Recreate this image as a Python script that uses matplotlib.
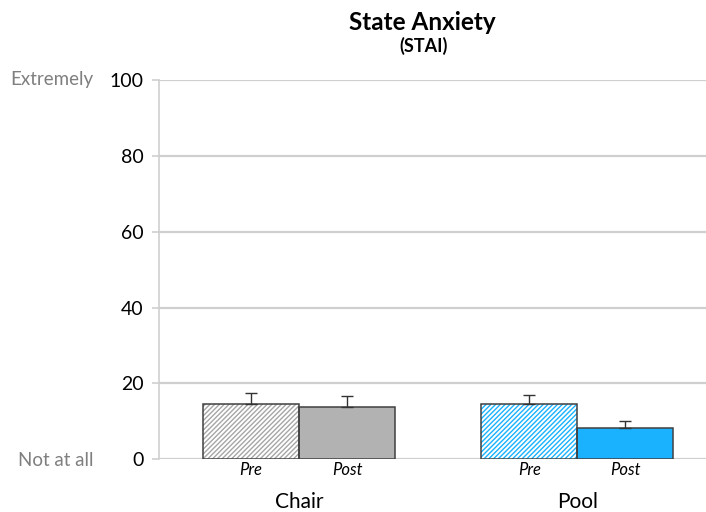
import numpy as np
import matplotlib.pyplot as plt

plt.rcParams['font.family'] = ['Lato', 'DejaVu Sans']
plt.rcParams['hatch.linewidth'] = 1.0

# data
groups = ['Chair', 'Pool']
phases = ['Pre', 'Post']
means = [14.5, 13.7, 14.7, 8.2]
errs = [2.9, 3.0, 2.3, 2.0]
yticks = [0, 20, 40, 60, 80, 100]

# style
hatch_cols = ['#a6a6a6', '#a6a6a6', '#1ab2ff', '#1ab2ff']
fill_cols = ['white', '#b2b2b2', 'white', '#1ab2ff']
hatches = ['///////', '', '///////', '']
grid_col = '#cfcfcf'
edge_col = '#404040'

x = np.array([0, 1, 2.9, 3.9])

fig = plt.figure(figsize=(7.06, 5.12), dpi=100)
ax = fig.add_axes([159 / 706, 1 - 459.3 / 512, 1 - 159 / 706, (459.3 - 80) / 512])

for i in range(4):
    ax.bar(x[i], means[i], width=1.0, color=fill_cols[i], hatch=hatches[i],
           edgecolor=hatch_cols[i], linewidth=0, zorder=2)
    ax.bar(x[i], means[i], width=1.0, fill=False, edgecolor=edge_col,
           linewidth=1.1, zorder=3)
    ax.errorbar(x[i], means[i], yerr=[[0], [errs[i]]], color='#333333',
                capsize=4, elinewidth=1, capthick=1, zorder=4)

ax.set_xlim(-0.958, 4.74)
ax.set_ylim(0, 100)
ax.set_yticks(yticks)
ax.set_yticklabels([str(v) for v in yticks], fontsize=14)
ax.yaxis.grid(True, color=grid_col, linewidth=1.6, zorder=0)
ax.set_axisbelow(True)
ax.tick_params(axis='y', length=5, color=grid_col, width=1.2, pad=6)
ax.set_xticks([])
for s in ['top', 'right', 'bottom']:
    ax.spines[s].set_visible(False)
ax.spines['left'].set_color(grid_col)
ax.spines['left'].set_linewidth(1.2)

# Pre / Post labels and group labels
for i in range(4):
    ax.text(x[i], -2.7, phases[i % 2], ha='center', va='center',
            fontsize=12, style='italic')
for g, name in enumerate(groups):
    ax.text((x[2 * g] + x[2 * g + 1]) / 2, -11.3, name, ha='center',
            va='center', fontsize=15)

# anchor labels
fig.text(93 / 706, 1 - 80 / 512, 'Extremely', ha='right', va='center',
         fontsize=13.5, color='#7f7f7f')
fig.text(93 / 706, 1 - 460 / 512, 'Not at all', ha='right', va='center',
         fontsize=13.5, color='#7f7f7f')

fig.text(422 / 706, 1 - 22 / 512, 'State Anxiety', ha='center', va='center',
         fontsize=17.5, fontweight='bold')
fig.text(424 / 706, 1 - 46 / 512, '(STAI)', ha='center', va='center',
         fontsize=13, fontweight='bold')

fig.savefig('out.png', dpi=100)
